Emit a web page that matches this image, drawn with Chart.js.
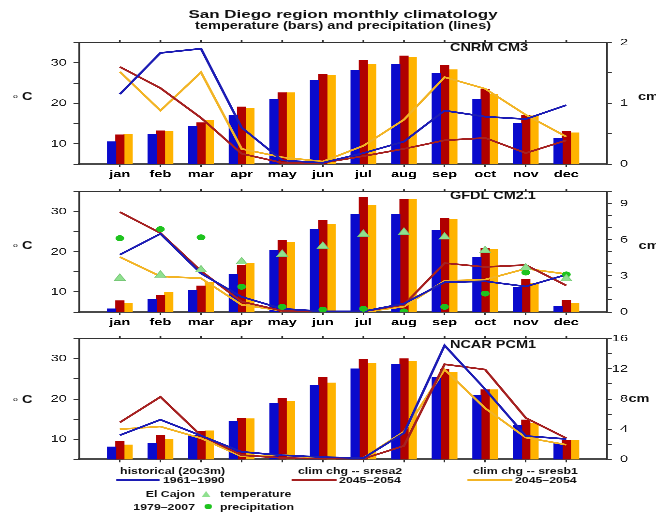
<!DOCTYPE html>
<html>
<head>
<meta charset="utf-8">
<script src="https://cdn.jsdelivr.net/npm/chart.js@4.4.1/dist/chart.umd.min.js"></script>
<style>
  html, body { margin: 0; padding: 0; background: #fff; width: 656px; height: 514px; overflow: hidden; }
  /* the reference is stretched sideways, so the page is laid out narrow and widened */
  #stage { position: absolute; left: 0; top: 0; width: 452px; height: 514px;
           transform: scaleX(1.4513); transform-origin: 0 0;
           font-family: "Liberation Sans", Arial, sans-serif; color: #111; }
  .t { position: absolute; white-space: nowrap; font-weight: bold; line-height: 1; transform: translateY(-50%); }
  .box { position: absolute; left: 0; width: 452px; }
  .sw { position: absolute; }
</style>
</head>
<body>
<div id="stage">
  <div class="t" style="left:236.4px;top:13.5px;font-size:11.7px;transform:translate(-50%,-50%)">San Diego region monthly climatology</div>
  <div class="t" style="left:236.4px;top:25.5px;font-size:10px;transform:translate(-50%,-50%)">temperature (bars) and precipitation (lines)</div>

  <div class="box" style="top:32px;height:152px"><canvas id="cnrm"></canvas></div>
  <div class="box" style="top:181px;height:151px"><canvas id="gfdl"></canvas></div>
  <div class="box" style="top:328px;height:142px"><canvas id="ncar"></canvas></div>

  <div class="t" style="left:310px;top:47.7px;font-size:10px">CNRM CM3</div>
  <div class="t" style="left:310px;top:195.5px;font-size:10px">GFDL CM2.1</div>
  <div class="t" style="left:310px;top:344.7px;font-size:10px">NCAR PCM1</div>

  <div class="t" style="left:9px;top:97px;font-size:10px"><span style="font-size:6px;font-weight:normal;vertical-align:2px">o</span> C</div>
  <div class="t" style="left:9px;top:246px;font-size:10px"><span style="font-size:6px;font-weight:normal;vertical-align:2px">o</span> C</div>
  <div class="t" style="left:9px;top:400px;font-size:10px"><span style="font-size:6px;font-weight:normal;vertical-align:2px">o</span> C</div>
  <div class="t" style="left:439.6px;top:97px;font-size:10px">cm</div>
  <div class="t" style="left:440px;top:246px;font-size:10px">cm</div>
  <div class="t" style="left:433px;top:399px;font-size:10px">cm</div>

  <!-- legend -->
  <div class="t" style="left:118.9px;top:470.7px;font-size:8.5px;transform:translate(-50%,-50%)">historical (20c3m)</div>
  <div class="t" style="left:241.2px;top:470.7px;font-size:8.5px;transform:translate(-50%,-50%)">clim chg -- sresa2</div>
  <div class="t" style="left:362.1px;top:470.7px;font-size:8.5px;transform:translate(-50%,-50%)">clim chg -- sresb1</div>
  <div class="sw" style="left:79.9px;top:479px;width:30.3px;height:2px;background:#1c1cb4"></div>
  <div class="sw" style="left:201.2px;top:479px;width:31px;height:2px;background:#a52020"></div>
  <div class="sw" style="left:321.8px;top:478.7px;width:31px;height:2.6px;background:#f2b425"></div>
  <div class="t" style="left:112.3px;top:480.3px;font-size:8.5px">1961–1990</div>
  <div class="t" style="left:233.6px;top:480.3px;font-size:8.5px">2045–2054</div>
  <div class="t" style="left:354.8px;top:480.3px;font-size:8.5px">2045–2054</div>
  <div class="t" style="right:317.6px;top:494.3px;font-size:8.5px">El Cajon</div>
  <div class="t" style="right:317.6px;top:506.7px;font-size:8.5px">1979–2007</div>
  <div class="sw" style="left:139.2px;top:490.7px;width:0;height:0;border-left:3.8px solid transparent;border-right:3.8px solid transparent;border-bottom:6.5px solid #8fe08f"></div>
  <div class="sw" style="left:141.4px;top:504.4px;width:4.7px;height:4.7px;border-radius:50%;background:#1ec31e"></div>
  <div class="t" style="left:151.6px;top:494.3px;font-size:8.5px">temperature</div>
  <div class="t" style="left:151.6px;top:506.7px;font-size:8.5px">precipitation</div>
</div>

<script>
// Months, with an empty slot at each end so jan..dec sit one step in from the frame
const MONTHS = ["jan", "feb", "mar", "apr", "may", "jun", "jul", "aug", "sep", "oct", "nov", "dec"];
const LABELS = ["", ...MONTHS, ""];

// CNRM CM3 -- temperature (C) and precipitation (cm)
const cnrmTempHist = [10.5, 12.4, 14.3, 17.1, 20.9, 25.7, 28.2, 29.7, 27.4, 20.9, 15.1, 11.3];
const cnrmTempA2   = [12.2, 13.2, 15.2, 19.1, 22.6, 27.2, 30.6, 31.7, 29.4, 23.4, 17.0, 13.0];
const cnrmTempB1   = [12.3, 13.1, 15.8, 18.8, 22.6, 27.0, 29.6, 31.3, 28.3, 22.2, 16.9, 12.7];
const cnrmPrHist   = [1.15, 1.83, 1.90, 0.60, 0.06, 0.02, 0.18, 0.37, 0.88, 0.78, 0.74, 0.97];
const cnrmPrA2     = [1.60, 1.25, 0.76, 0.17, 0.02, 0.02, 0.13, 0.25, 0.39, 0.43, 0.18, 0.39];
const cnrmPrB1     = [1.52, 0.88, 1.51, 0.25, 0.11, 0.04, 0.30, 0.73, 1.43, 1.24, 0.81, 0.45];

// GFDL CM2.1
const gfdlTempHist = [5.8, 8.1, 10.4, 14.3, 20.3, 25.6, 29.4, 29.4, 25.4, 18.6, 11.1, 6.5];
const gfdlTempA2   = [7.8, 9.1, 11.5, 16.7, 22.9, 27.8, 33.5, 33.0, 28.4, 20.8, 13.1, 7.9];
const gfdlTempB1   = [7.1, 9.9, 12.3, 17.2, 22.4, 26.9, 31.5, 33.0, 28.1, 20.6, 12.1, 7.2];
const gfdlPrHist   = [4.76, 6.5, 3.2, 1.26, 0.27, 0.05, 0.05, 0.7, 2.47, 2.55, 2.12, 3.1];
const gfdlPrA2     = [8.3, 6.56, 3.4, 0.86, 0.1, 0.0, 0.05, 0.6, 4.06, 3.74, 3.9, 2.2];
const gfdlPrB1     = [4.57, 2.96, 2.8, 0.6, 0.1, 0.0, 0.0, 0.45, 2.58, 2.69, 3.6, 3.15];

// El Cajon observations 1979-2007 (shown on the GFDL panel)
const obsTemp = [13.4, 14.2, 15.5, 17.5, 19.4, 21.4, 24.4, 24.9, 23.7, 20.3, 16.0, 13.3];
const obsPrec = [6.13, 6.88, 6.2, 2.1, 0.43, 0.2, 0.27, 0.05, 0.43, 1.53, 3.28, 3.12];

// NCAR PCM1
const ncarTempHist = [8.1, 9.0, 11.0, 14.4, 19.0, 23.4, 27.5, 28.6, 25.3, 21.0, 13.5, 8.9];
const ncarTempA2   = [9.4, 11.0, 11.9, 15.2, 20.2, 25.4, 29.8, 30.0, 27.4, 22.3, 14.8, 9.8];
const ncarTempB1   = [8.6, 10.0, 12.1, 15.1, 19.4, 24.0, 28.8, 29.3, 26.6, 22.3, 13.9, 9.8];
const ncarPrHist   = [3.2, 5.26, 3.15, 1.0, 0.55, 0.3, 0.17, 3.5, 15.1, 9.3, 3.1, 2.7];
const ncarPrA2     = [4.9, 8.28, 3.15, 0.56, 0.2, 0.05, 0.09, 1.8, 12.6, 11.9, 5.5, 2.8];
const ncarPrB1     = [4.0, 4.35, 2.8, 0.4, 0.6, 0.13, 0.2, 3.66, 11.9, 6.77, 2.9, 1.94];

const C = {
  bar: ["#0a0acc", "#b00000", "#ffb300"],
  line: ["#1c1cb4", "#a52020", "#f2b425"],
  tri: "#8fe08f", triEdge: "#78c878", dot: "#1ec31e",
  axis: "#333", base: "#4a4a4a", ink: "#1a1a1a",
};

Chart.defaults.font.family = '"Liberation Sans", Arial, sans-serif';
Chart.defaults.color = C.ink;

const pad = (a) => [null, ...a, null];

// top edge of the frame with the small month ticks
const topFrame = {
  id: "topFrame",
  afterDraw(chart) {
    const { ctx, chartArea: a, scales: { x } } = chart;
    ctx.save();
    ctx.strokeStyle = C.axis;
    ctx.lineWidth = 1.2;
    ctx.beginPath();
    ctx.moveTo(a.left, a.top);
    ctx.lineTo(a.right, a.top);
    for (let i = 1; i <= MONTHS.length; i++) {
      const px = x.getPixelForValue(i);
      ctx.moveTo(px, a.top);
      ctx.lineTo(px, a.top - 2.5);
    }
    ctx.stroke();
    ctx.restore();
  },
};

function panel(id, temps, precs, y2max, y2step, y2every, obs, showMonths) {
  const datasets = [];
  temps.forEach((t, i) => datasets.push({
    type: "bar", data: pad(t), backgroundColor: C.bar[i], yAxisID: "y", order: 3, barThickness: 5.7,
  }));
  precs.forEach((p, i) => datasets.push({
    type: "line", data: pad(p), borderColor: C.line[i], borderWidth: 1.8, pointRadius: 0,
    yAxisID: "y2", order: 2, tension: 0,
  }));
  if (obs) {
    datasets.push({
      type: "line", data: pad(obs.temp), showLine: false, pointStyle: "triangle", pointRadius: 4.4,
      backgroundColor: C.tri, borderColor: C.triEdge, borderWidth: 0.6, yAxisID: "y", order: 1,
    });
    datasets.push({
      type: "line", data: pad(obs.prec), showLine: false, pointStyle: "circle", pointRadius: 3,
      backgroundColor: C.dot, borderColor: C.dot, borderWidth: 0, yAxisID: "y2", order: 1,
    });
  }

  new Chart(document.getElementById(id), {
    type: "bar",
    data: { labels: LABELS, datasets },
    plugins: [topFrame],
    options: {
      responsive: true,
      maintainAspectRatio: false,
      animation: false,
      devicePixelRatio: 3,
      layout: { padding: { top: 8, right: 19.3, left: 0, bottom: 0 } },
      plugins: { legend: { display: false }, tooltip: { enabled: false } },
      scales: {
        x: {
          type: "category",
          offset: false,
          grid: {
            drawOnChartArea: false, drawTicks: true, tickLength: 3, offset: false,
            color: (c) => (c.index === 0 || c.index === LABELS.length - 1 ? "rgba(0,0,0,0)" : C.axis),
          },
          border: { display: true, color: C.base, width: 2 },
          ticks: {
            display: showMonths, autoSkip: false, maxRotation: 0, padding: 1.5,
            font: { weight: "bold", size: 10 }, color: "#000",
          },
          afterFit: (s) => { s.height = showMonths ? 20 : 10; },
        },
        y: {
          position: "left", min: 5, max: 35,
          ticks: {
            stepSize: 5, autoSkip: false, padding: 4.6, font: { size: 10 },
            callback: (v) => (v % 10 === 0 && v < 35 ? v : ""),
          },
          grid: { drawOnChartArea: false, tickLength: 4, color: C.axis },
          border: { display: true, color: C.axis, width: 1.2 },
          afterFit: (s) => { s.width = 54.6; },
        },
        y2: {
          position: "right", min: 0, max: y2max,
          ticks: {
            stepSize: y2step, autoSkip: false, crossAlign: "far", padding: 2, font: { size: 10 },
            callback: (v) => (Math.abs(v % y2every) < 1e-9 ? v : ""),
          },
          grid: { drawOnChartArea: false, tickLength: 3.4, color: C.axis },
          border: { display: true, color: C.axis, width: 1.2 },
          afterFit: (s) => { s.width = 14.5; },
        },
      },
    },
  });
}

panel("cnrm", [cnrmTempHist, cnrmTempA2, cnrmTempB1], [cnrmPrHist, cnrmPrA2, cnrmPrB1], 2, 0.5, 1, null, true);
panel("gfdl", [gfdlTempHist, gfdlTempA2, gfdlTempB1], [gfdlPrHist, gfdlPrA2, gfdlPrB1], 10, 1, 3,
      { temp: obsTemp, prec: obsPrec }, true);
panel("ncar", [ncarTempHist, ncarTempA2, ncarTempB1], [ncarPrHist, ncarPrA2, ncarPrB1], 16, 2, 4, null, false);
</script>
</body>
</html>
